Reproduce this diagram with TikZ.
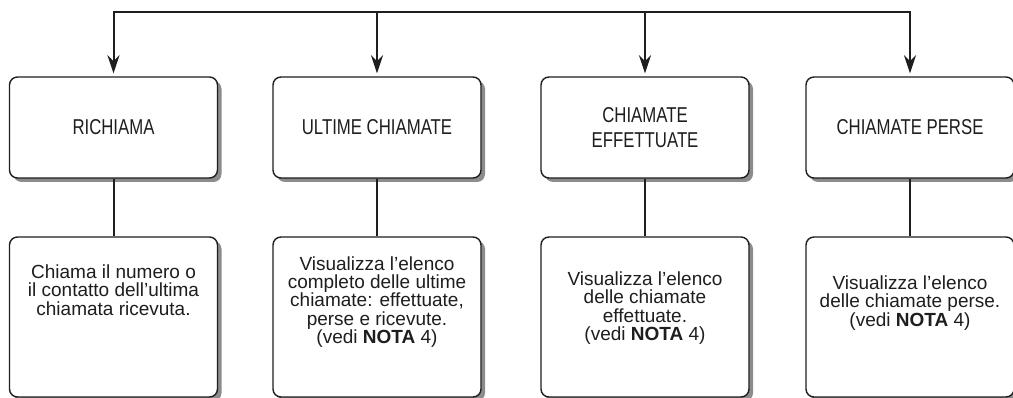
\documentclass[tikz,border=0pt]{standalone}
\usepackage{fontspec}
\setmainfont{Liberation Sans}
\newfontfamily\condfont[FakeStretch=0.78]{Liberation Sans}
\usetikzlibrary{arrows.meta,positioning,shadows}
\definecolor{inkgray}{RGB}{30,30,30}
\definecolor{shadowgray}{RGB}{140,140,140}

\begin{document}
\begin{tikzpicture}[x=1pt,y=-1pt,
  wire/.style={line width=2pt,color=inkgray},
  arr/.style={wire,-{Stealth[length=18pt,width=12pt]},shorten >=3pt},
  box/.style={draw=inkgray,line width=1.4pt,fill=white,rounded corners=8pt,
    minimum width=208pt,
    drop shadow={shadow xshift=4pt,shadow yshift=-4pt,fill=shadowgray,opacity=1}},
  headbox/.style={box,minimum height=101pt,align=center,
    font=\condfont\fontsize{21.5}{25}\selectfont,text=inkgray},
  descbox/.style={box,minimum height=160pt},
  desc/.style={align=center,font=\fontsize{19}{18.4}\selectfont,text=inkgray}]
  \useasboundingbox (0,0) rectangle (1013,398);
  % top row
  \node[headbox] (rich) at (113.5,127.5) {RICHIAMA};
  \node[headbox] (ult)  at (377,127.5) {ULTIME CHIAMATE};
  \node[headbox] (eff)  at (645,127.5) {CHIAMATE\\EFFETTUATE};
  \node[headbox] (pers) at (910,127.5) {CHIAMATE PERSE};
  % bottom row
  \node[descbox] (rich-d) at (113.5,317) {};
  \node[descbox] (ult-d)  at (377,317) {};
  \node[descbox] (eff-d)  at (645,317) {};
  \node[descbox] (pers-d) at (910,317) {};
  % descriptions
  \node[desc] (rich-t) at (113.5,290) {Chiama il numero o\\il contatto dell’ultima\\chiamata ricevuta.};
  \node[desc] (ult-t)  at (377,302) {Visualizza l’elenco\\completo delle ultime\\chiamate: effettuate,\\perse e ricevute.\\(vedi \textbf{NOTA} 4)};
  \node[desc] (eff-t)  at (645,308) {Visualizza l’elenco\\delle chiamate\\effettuate.\\(vedi \textbf{NOTA} 4)};
  \node[desc] (pers-t) at (910,303) {Visualizza l’elenco\\delle chiamate perse.\\(vedi \textbf{NOTA} 4)};
  % bus and arrows
  \coordinate (bus) at (0,12);
  \draw[wire,line cap=rect] (rich.north |- bus) -- (pers.north |- bus);
  \foreach \n in {rich,ult,eff,pers}{
    \draw[arr] (\n.north |- bus) -- (\n.north);
    \draw[wire] (\n.south) -- (\n-d.north);
  }
\end{tikzpicture}
\end{document}
